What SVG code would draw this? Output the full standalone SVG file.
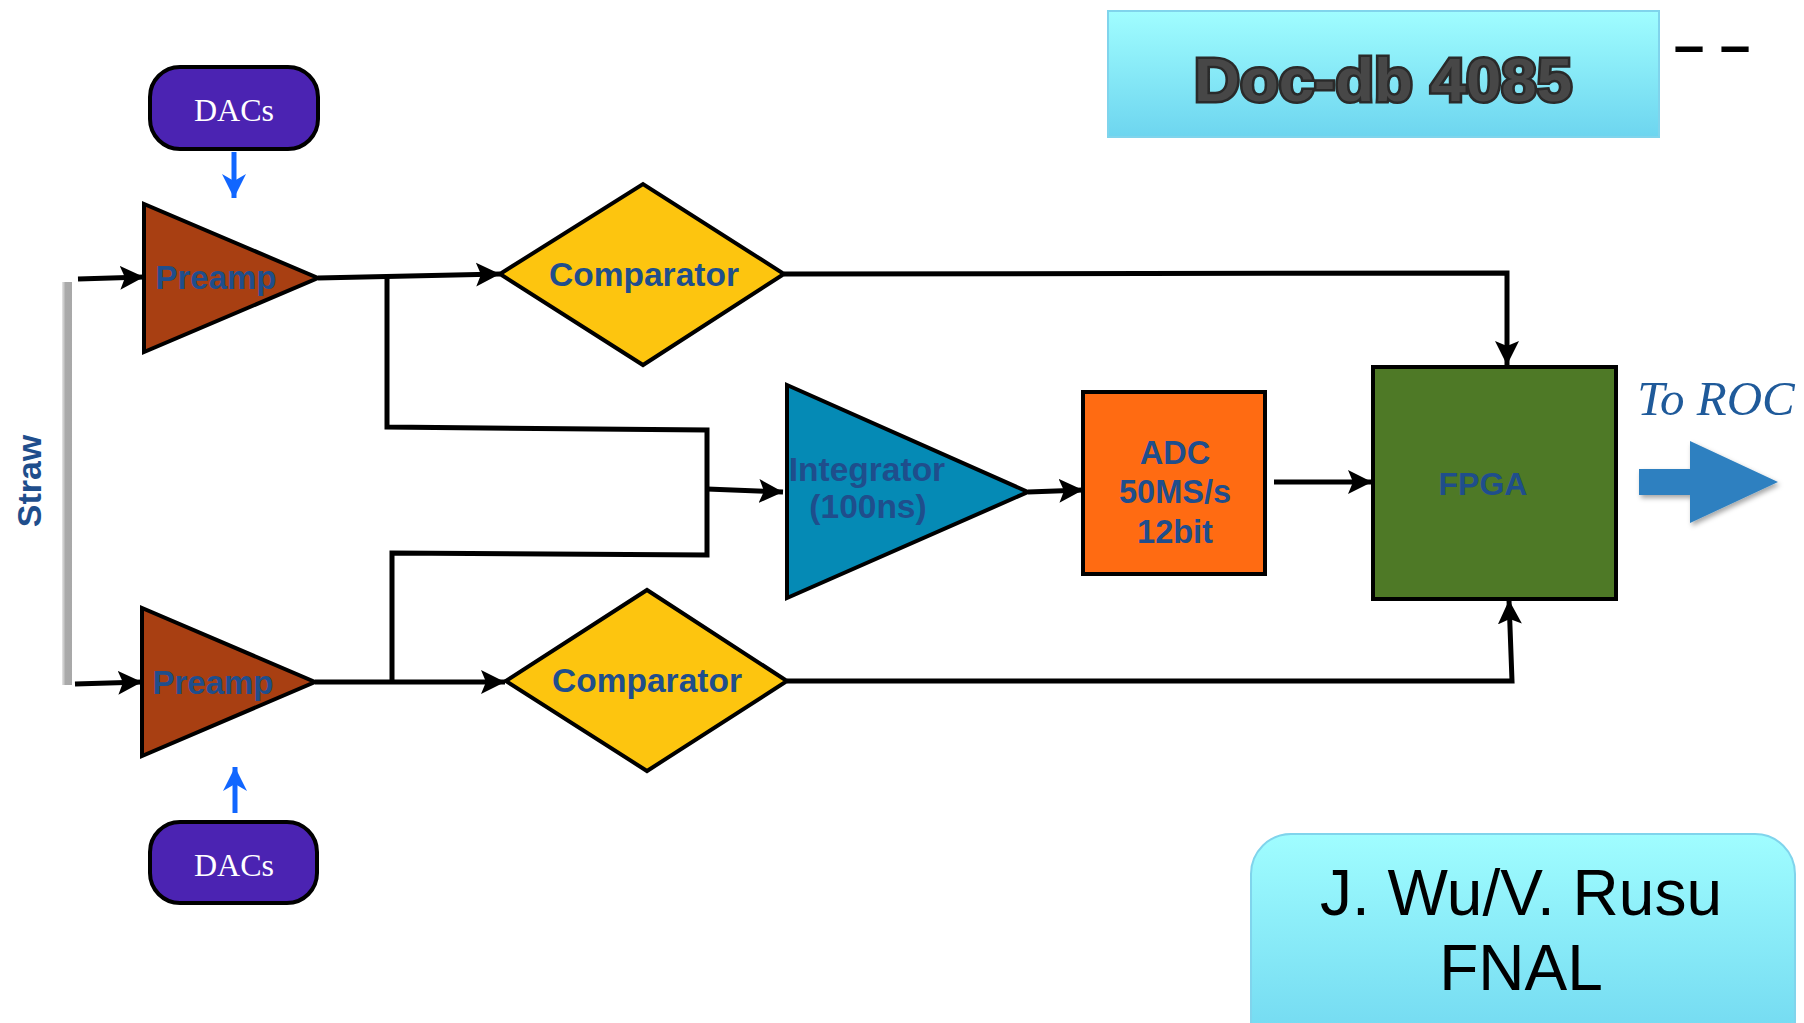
<svg xmlns="http://www.w3.org/2000/svg" width="1804" height="1023" viewBox="0 0 1804 1023">
<defs>
<linearGradient id="cyan" x1="0" y1="0" x2="0" y2="1">
<stop offset="0" stop-color="#a0fdff"/>
<stop offset="1" stop-color="#6dd5ef"/>
</linearGradient>
<linearGradient id="strawg" x1="0" y1="0" x2="1" y2="0">
<stop offset="0" stop-color="#e6e6e6"/>
<stop offset="0.35" stop-color="#aaaaaa"/>
<stop offset="1" stop-color="#a8a8a8"/>
</linearGradient>
<filter id="shadow" x="-20%" y="-20%" width="140%" height="140%">
<feDropShadow dx="2" dy="3" stdDeviation="2.5" flood-color="#000" flood-opacity="0.35"/>
</filter>
<marker id="ah" markerUnits="userSpaceOnUse" markerWidth="26" markerHeight="26" viewBox="0 0 26 26" refX="24" refY="13" orient="auto">
<path d="M0,1 L24,13 L0,25 L5,13 Z" fill="#000"/>
</marker>
<marker id="bh" markerUnits="userSpaceOnUse" markerWidth="26" markerHeight="26" viewBox="0 0 26 26" refX="24" refY="13" orient="auto">
<path d="M0,1 L24,13 L0,25 L7,13 Z" fill="#1166ff"/>
</marker>
</defs>
<style>
.ln{fill:none;stroke:#000;stroke-width:5;stroke-linejoin:miter}
.sh{stroke:#000;stroke-width:4;stroke-linejoin:miter}
.lbl{font-family:"Liberation Sans",Arial,sans-serif;font-weight:bold;fill:#1f4e8c;text-anchor:middle}
.dac{font-family:"Liberation Serif","Times New Roman",serif;fill:#fff;text-anchor:middle;font-size:32px}
</style>

<g id="connectors">
<path class="ln" d="M78,279 L144,277" marker-end="url(#ah)"/>
<path class="ln" d="M75,684 L142,682" marker-end="url(#ah)"/>
<path class="ln" d="M318,278 L500,274" marker-end="url(#ah)"/>
<path class="ln" d="M315,682 L505,682" marker-end="url(#ah)"/>
<path class="ln" d="M387,277 L387,427 L707,430 L707,555 L392,553 L392,682"/>
<path class="ln" d="M707,489 L783,492" marker-end="url(#ah)"/>
<path class="ln" d="M1028,492 L1083,490" marker-end="url(#ah)"/>
<path class="ln" d="M1274,482 L1372,482" marker-end="url(#ah)"/>
<path class="ln" d="M784,274 L1507,273 L1507,365" marker-end="url(#ah)"/>
<path class="ln" d="M787,681 L1512,681 L1509,600" marker-end="url(#ah)"/>
<path d="M234,152 L234,198" stroke="#1166ff" stroke-width="5" fill="none" marker-end="url(#bh)"/>
<path d="M235,813 L235,767" stroke="#1166ff" stroke-width="5" fill="none" marker-end="url(#bh)"/>
</g>

<g id="straw">
<rect x="62" y="282" width="10" height="403" fill="url(#strawg)"/>
<text class="lbl" font-size="34" transform="translate(41,481) rotate(-90)" x="0" y="0">Straw</text>
</g>

<g id="dac-top">
<rect x="150" y="67" width="168" height="82" rx="30" fill="#4b23b2" stroke="#000" stroke-width="4"/>
<text class="dac" x="234" y="121">DACs</text>
</g>
<g id="dac-bottom">
<rect x="150" y="822" width="167" height="81" rx="30" fill="#4b23b2" stroke="#000" stroke-width="4"/>
<text class="dac" x="234" y="876">DACs</text>
</g>

<g id="preamp-top">
<polygon class="sh" points="144,204 144,352 318,278" fill="#a83f12"/>
<text class="lbl" font-size="33" x="216" y="289">Preamp</text>
</g>
<g id="preamp-bottom">
<polygon class="sh" points="142,608 142,756 315,682" fill="#a83f12"/>
<text class="lbl" font-size="33" x="213" y="694">Preamp</text>
</g>

<g id="comparator-top">
<polygon class="sh" points="500,274 643,184 784,274 643,365" fill="#fdc50f"/>
<text class="lbl" font-size="33.5" x="644" y="286">Comparator</text>
</g>
<g id="comparator-bottom">
<polygon class="sh" points="506,681 647,590 787,681 647,771" fill="#fdc50f"/>
<text class="lbl" font-size="33.5" x="647" y="692">Comparator</text>
</g>

<g id="integrator">
<polygon class="sh" points="787,385 787,598 1028,492" fill="#058ab5"/>
<text class="lbl" font-size="33.5" x="867" y="481">Integrator</text>
<text class="lbl" font-size="33.5" x="868" y="518">(100ns)</text>
</g>

<g id="adc">
<rect x="1083" y="392" width="182" height="182" fill="#ff6b12" stroke="#000" stroke-width="4"/>
<text class="lbl" font-size="32.5" x="1175" y="464">ADC</text>
<text class="lbl" font-size="32.5" x="1175" y="503">50MS/s</text>
<text class="lbl" font-size="32.5" x="1175" y="543">12bit</text>
</g>

<g id="fpga">
<rect x="1373" y="367" width="243" height="232" fill="#4e7926" stroke="#000" stroke-width="4"/>
<text class="lbl" font-size="32" x="1483" y="495">FPGA</text>
</g>

<g id="to-roc">
<text x="1716" y="415" font-family="Liberation Serif,'Times New Roman',serif" font-style="italic" font-size="49" fill="#1f5a9a" text-anchor="middle">To ROC</text>
<polygon points="1639,469 1690,469 1690,441 1778,482 1690,523 1690,495 1639,495" fill="#2e80c0" filter="url(#shadow)"/>
</g>

<g id="docdb">
<rect x="1108" y="11" width="551" height="126" fill="url(#cyan)" stroke="#80d4ec" stroke-width="2"/>
<text x="1383" y="101" font-family="Liberation Sans,Arial,sans-serif" font-weight="bold" font-size="62" fill="#474747" stroke="#2a2a2a" stroke-width="5" paint-order="stroke" text-anchor="middle" textLength="378" lengthAdjust="spacingAndGlyphs">Doc-db 4085</text>
<text x="1712" y="64" font-family="Liberation Sans,Arial,sans-serif" font-weight="bold" font-size="55" fill="#000" text-anchor="middle">– –</text>
</g>

<g id="author">
<rect x="1251" y="834" width="544" height="230" rx="40" fill="url(#cyan)" stroke="#80d4ec" stroke-width="2"/>
<text x="1521" y="915" font-family="Liberation Sans,Arial,sans-serif" font-size="64" fill="#000" text-anchor="middle">J. Wu/V. Rusu</text>
<text x="1521" y="990" font-family="Liberation Sans,Arial,sans-serif" font-size="64" fill="#000" text-anchor="middle">FNAL</text>
</g>
</svg>
